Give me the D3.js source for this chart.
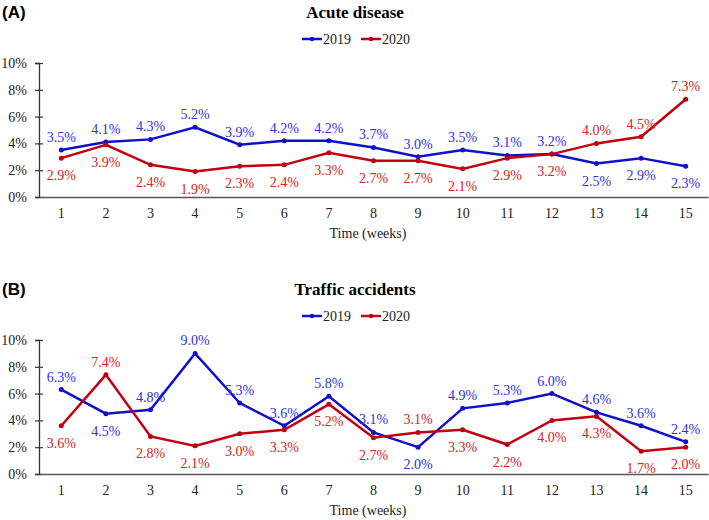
<!DOCTYPE html>
<html><head><meta charset="utf-8">
<script src="https://cdn.jsdelivr.net/npm/d3@7"></script>
<style>body{margin:0;background:#fff}svg{display:block}</style>
</head><body>
<svg id="c" width="709" height="520"></svg>
<script>
const weeks = [1,2,3,4,5,6,7,8,9,10,11,12,13,14,15];
const yTicks = [0,2,4,6,8,10];
const seriesNames = ["2019","2020"];
const acute2019 = [3.5,4.1,4.3,5.2,3.9,4.2,4.2,3.7,3.0,3.5,3.1,3.2,2.5,2.9,2.3];
const acute2020 = [2.9,3.9,2.4,1.9,2.3,2.4,3.3,2.7,2.7,2.1,2.9,3.2,4.0,4.5,7.3];
const traffic2019 = [6.3,4.5,4.8,9.0,5.3,3.6,5.8,3.1,2.0,4.9,5.3,6.0,4.6,3.6,2.4];
const traffic2020 = [3.6,7.4,2.8,2.1,3.0,3.3,5.2,2.7,3.1,3.3,2.2,4.0,4.3,1.7,2.0];
// label placement: 1 = above, 0 = below
const acute2019Pos = [1,1,1,1,1,1,1,1,1,1,1,1,0,0,0];
const acute2020Pos = [0,0,0,0,0,0,0,0,0,0,0,0,1,1,1];
const traffic2019Pos = [1,0,1,1,1,1,1,1,0,1,1,1,1,1,1];
const traffic2020Pos = [0,1,0,0,0,0,0,0,1,0,0,0,0,0,0];

const lineColors = ["#1010cc","#c00010"];
const labelColors = ["#3030e8","#dd2020"];
const serif = "'Liberation Serif','Times New Roman',serif";

const svg = d3.select("#c");

function panel(oy, tag, title, s19, s20, p19, p20) {
  const g = svg.append("g").attr("transform", `translate(0,${oy})`);
  const top = 63, bottom = 197, left = 39, right = 708;
  const x = d3.scaleBand().domain(weeks).range([left, right]);
  const y = d3.scaleLinear().domain([0,10]).range([bottom, top]);
  const cx = d => x(d) + x.bandwidth()/2;

  g.append("text").attr("x", 2).attr("y", 18).text(tag)
    .attr("font-family", "'Liberation Sans',Arial,sans-serif").attr("font-weight", "bold")
    .attr("font-size", 17).attr("fill", "#000");
  g.append("text").attr("x", 355).attr("y", 18).attr("text-anchor", "middle").text(title)
    .attr("font-family", serif).attr("font-weight", "bold").attr("font-size", 17).attr("fill", "#000");

  // legend
  seriesNames.forEach((n, i) => {
    const lx = 302 + i*59;
    const lg = g.append("g");
    lg.append("line").attr("x1", lx).attr("x2", lx+20).attr("y1", 39).attr("y2", 39)
      .attr("stroke", lineColors[i]).attr("stroke-width", 2.5);
    lg.append("circle").attr("cx", lx+10).attr("cy", 39).attr("r", 2.2).attr("fill", lineColors[i]);
    lg.append("text").attr("x", lx+21).attr("y", 44).text(n)
      .attr("font-family", serif).attr("font-size", 14).attr("fill", "#222");
  });

  // y axis
  const ya = g.append("g").attr("transform", `translate(${left},0)`)
    .call(d3.axisLeft(y).tickValues(yTicks).tickFormat(d => d + "%").tickSize(4).tickPadding(8));
  ya.select(".domain").attr("stroke", "#333").attr("stroke-width", 1.3);
  ya.selectAll(".tick line").attr("stroke", "#333").attr("stroke-width", 1.2).attr("x2", 4).attr("x1", -4);
  ya.selectAll(".tick text").attr("font-family", serif).attr("font-size", 14).attr("fill", "#222");

  // x axis
  const xa = g.append("g").attr("transform", `translate(0,${bottom})`)
    .call(d3.axisBottom(x).tickSize(0).tickPadding(11));
  xa.select(".domain").attr("stroke", "#555").attr("stroke-width", 1.3);
  xa.selectAll(".tick text").attr("font-family", serif).attr("font-size", 14).attr("fill", "#222");

  g.append("text").attr("x", 368).attr("y", 238).attr("text-anchor", "middle").text("Time (weeks)")
    .attr("font-family", serif).attr("font-size", 14).attr("fill", "#222");

  const line = d3.line().x((d, i) => cx(weeks[i])).y(d => y(d));
  [[s19,p19],[s20,p20]].forEach(([s,p], si) => {
    g.append("path").datum(s).attr("d", line).attr("fill", "none")
      .attr("stroke", lineColors[si]).attr("stroke-width", 2.5).attr("stroke-linejoin", "miter");
    g.selectAll(null).data(s).enter().append("circle")
      .attr("cx", (d, i) => cx(weeks[i])).attr("cy", d => y(d)).attr("r", 2.5).attr("fill", lineColors[si]);
    g.selectAll(null).data(s).enter().append("text")
      .attr("x", (d, i) => cx(weeks[i]))
      .attr("y", (d, i) => y(d) + (p[i] ? -8 : 22))
      .attr("text-anchor", "middle").text(d => d.toFixed(1) + "%")
      .attr("font-family", serif).attr("font-size", 14).attr("fill", labelColors[si]);
  });
}

panel(0, "(A)", "Acute disease", acute2019, acute2020, acute2019Pos, acute2020Pos);
panel(277, "(B)", "Traffic accidents", traffic2019, traffic2020, traffic2019Pos, traffic2020Pos);
</script>
</body></html>
